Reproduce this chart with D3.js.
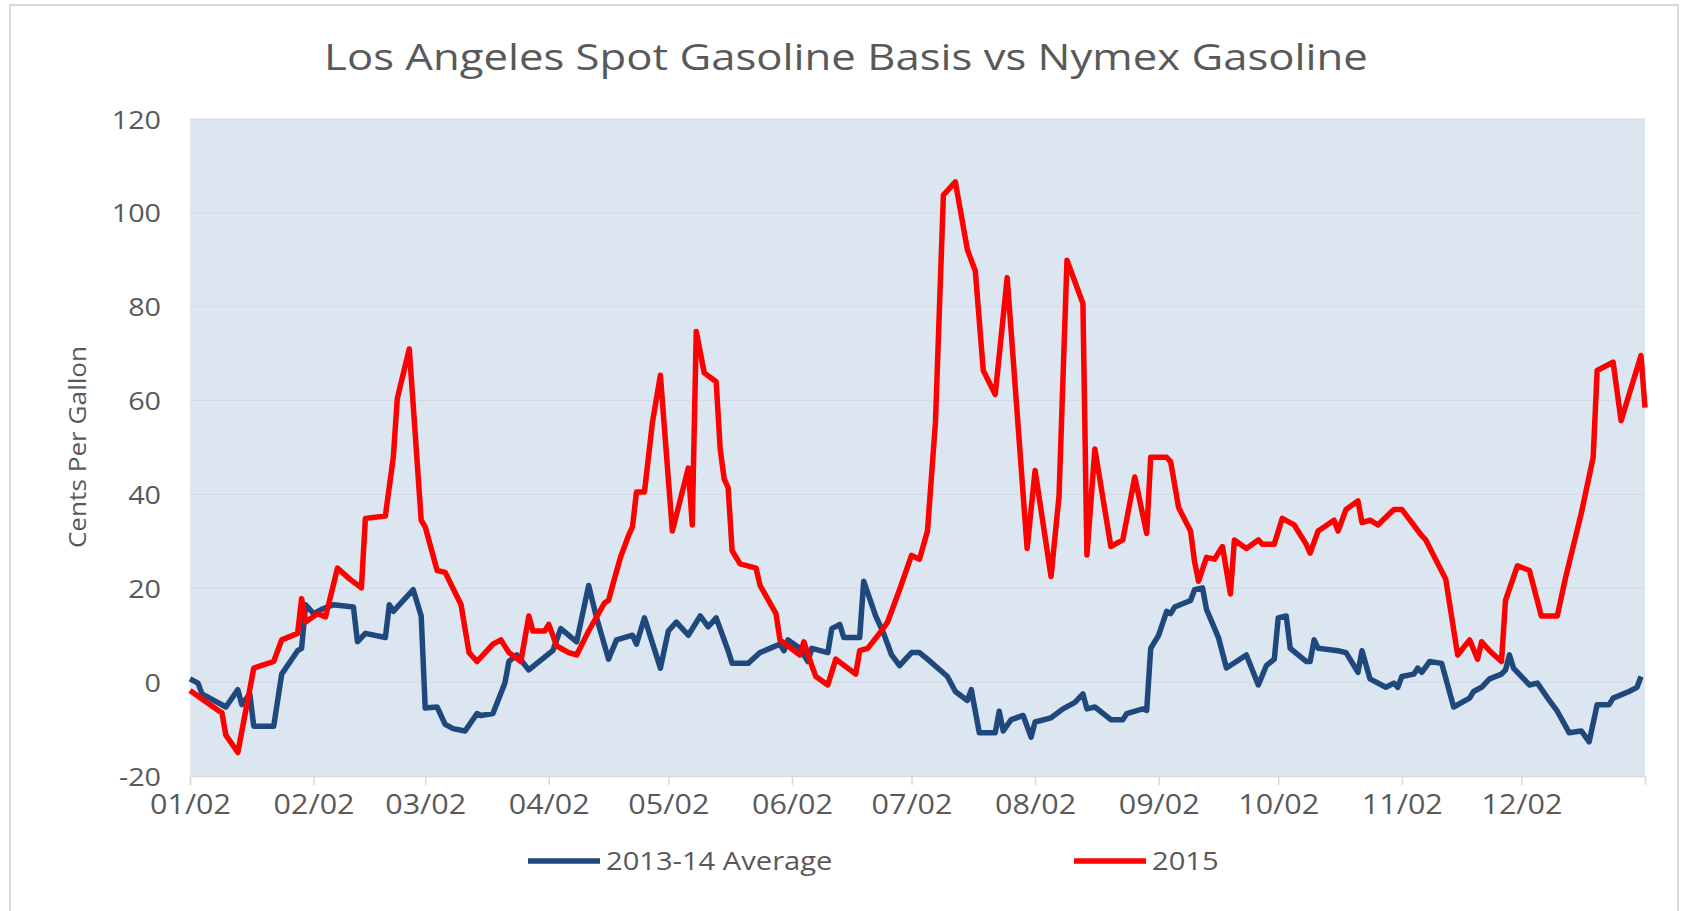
<!DOCTYPE html>
<html>
<head>
<meta charset="utf-8">
<script src="https://cdn.jsdelivr.net/npm/d3@7"></script>
<style>
  body { margin: 0; background: #ffffff; }
  text { font-family: "Open Sans", sans-serif; fill: #595959; }
</style>
</head>
<body>
<div id="chart"></div>
<script>
// Chart data (days counted from 01/02/2015, values in cents per gallon)

var chartTitle = "Los Angeles Spot Gasoline Basis vs Nymex Gasoline";
var yTicks = [-20, 0, 20, 40, 60, 80, 100, 120];
var xTickLabels = ["01/02", "02/02", "03/02", "04/02", "05/02", "06/02",
  "07/02", "08/02", "09/02", "10/02", "11/02", "12/02"];
var seriesNames = ["2013-14 Average", "2015"];

// 2013-14 Average
var avgDays = [0, 2, 3, 9, 12, 13, 15, 16, 21, 23, 27, 28, 29, 31, 33, 36, 41, 42, 44, 49,
  50, 51, 56, 58, 59, 62, 64, 66, 69, 72, 73, 76, 79, 80, 82, 85, 87, 91, 93, 97,
  100, 102, 105, 107, 111, 112, 114, 118, 120, 122, 125, 128, 130, 132, 135, 136, 140, 143, 148, 149,
  150, 153, 155, 156, 160, 161, 163, 164, 168, 169, 172, 174, 176, 178, 181, 183, 185, 190, 192, 195,
  196, 198, 202, 203, 204, 206, 209, 211, 212, 216, 219, 222, 224, 225, 227, 231, 234, 235, 239, 240,
  241, 243, 245, 246, 247, 251, 252, 254, 255, 258, 260, 265, 268, 270, 272, 273, 275, 276, 280, 281,
  282, 283, 288, 290, 293, 294, 296, 300, 302, 303, 304, 307, 308, 309, 311, 314, 317, 321, 322, 324,
  326, 329, 330, 331, 332, 336, 338, 341, 343, 346, 349, 351, 353, 356, 357, 361, 363, 364];
var avgValues = [0.7, -0.2, -2.5, -5.3, -1.6, -4.8, -2.5, -9.4, -9.4, 1.7, 6.7, 7.2, 16.5, 14.6, 15.5, 16.5, 16, 8.6, 10.4, 9.5,
  16.5, 15.1, 19.7, 14.1, -5.5, -5.3, -9, -9.9, -10.4, -6.7, -7.1, -6.7, -0.2, 4.4, 5.8, 2.6, 4, 6.7, 11.4, 8.6,
  20.6, 13.7, 4.9, 9, 10, 8.1, 13.7, 3, 10.9, 12.8, 10, 14.1, 11.8, 13.7, 6.7, 4, 4, 6.3, 8.1, 6.7,
  9, 7.2, 4.4, 7.2, 6.3, 11.4, 12.3, 9.5, 9.5, 21.5, 14.1, 10.4, 5.8, 3.5, 6.3, 6.3, 4.9, 1.2, -2, -3.9,
  -1.6, -10.8, -10.8, -6.2, -10.4, -8, -7.1, -11.7, -8.5, -7.6, -5.7, -4.3, -2.5, -5.7, -5.3, -8, -8, -6.7, -5.7, -6,
  7.2, 10, 15.1, 14.6, 16, 17.4, 19.7, 20.1, 15.5, 9.5, 3, 5.8, -0.6, 3.5, 4.9, 13.7, 14.1, 7.2, 4.4, 4.4,
  9, 7.2, 6.7, 6.3, 2.1, 6.7, 0.7, -1.1, -0.2, -1.1, 1.2, 1.7, 3, 2.1, 4.4, 4, -5.3, -3.4, -2, -1.1,
  0.7, 1.7, 2.6, 5.8, 3, -0.6, -0.2, -3.9, -6.2, -10.8, -10.4, -12.7, -4.8, -4.8, -3.4, -2, -1.1, 1.2];

// 2015
var curDays = [0, 7, 8, 9, 12, 16, 21, 23, 27, 28, 29, 32, 34, 37, 40, 43, 44, 49, 51, 52,
  55, 56, 58, 59, 62, 64, 68, 70, 72, 76, 78, 80, 83, 85, 86, 89, 90, 92, 95, 97,
  100, 104, 105, 106, 108, 110, 111, 112, 114, 116, 118, 121, 125, 126, 127, 129, 132, 133, 134, 135,
  136, 138, 142, 143, 147, 148, 150, 153, 154, 156, 157, 160, 162, 167, 168, 170, 173, 175, 178, 181,
  183, 185, 187, 189, 192, 195, 197, 199, 202, 205, 210, 212, 216, 218, 220, 224, 225, 227, 231, 234,
  237, 240, 241, 245, 246, 248, 251, 252, 253, 255, 257, 259, 261, 262, 265, 268, 269, 272, 274, 277,
  280, 281, 283, 287, 288, 290, 293, 294, 296, 298, 302, 304, 309, 310, 315, 318, 321, 323, 324, 326,
  329, 330, 333, 336, 339, 343, 345, 349, 352, 353, 357, 359, 364, 365];
var curValues = [-1.8, -6, -6.5, -11.3, -15, 3, 4.4, 9, 10.4, 17.8, 12.8, 14.6, 13.9, 24.3, 22, 20.1, 34.9, 35.4, 47.9, 60.4,
  71, 59, 34.5, 33.1, 23.8, 23.4, 16.5, 6.3, 4.4, 8.1, 9, 6.3, 4.4, 14.1, 10.9, 10.9, 12.3, 7.7, 6.3, 5.8,
  10.9, 16.9, 17.4, 20.6, 26.6, 31.2, 33.1, 40.5, 40.5, 55.3, 65.4, 32.2, 45.6, 33.5, 74.7, 65.9, 64, 49.7, 43.3, 41.4,
  28, 25.2, 24.3, 20.6, 14.6, 9, 7.7, 5.8, 8.6, 3.5, 1.2, -0.6, 4.9, 1.7, 6.7, 7.2, 10.4, 12.8, 19.7, 27,
  26.2, 32.2, 55.3, 103.8, 106.6, 92.2, 87.6, 66.4, 61.3, 86.2, 28.5, 45.1, 22.5, 39.6, 89.9, 80.7, 27.1, 49.7, 28.9, 30.3,
  43.7, 31.7, 47.9, 47.9, 47, 37.2, 32.2, 25.7, 21.5, 26.6, 26.2, 28.9, 18.8, 30.3, 28.5, 30.3, 29.4, 29.4, 34.9, 33.5,
  29.4, 27.5, 32.2, 34.5, 32.2, 36.8, 38.6, 34, 34.5, 33.5, 36.8, 36.8, 31.2, 30.3, 22, 5.8, 9, 4.9, 8.6, 6.7,
  4.4, 17.4, 24.8, 23.8, 14.1, 14.1, 22, 35.9, 47.9, 66.4, 68.2, 55.7, 69.6, 58.5];

// Setting width and height
var width = 1688;
var height = 911;

// Plot area edges
var plotLeft = 190;
var plotRight = 1645;
var plotTop = 119;
var plotBottom = 776;

var startDate = new Date(2015, 0, 2);
var endDate = new Date(2016, 0, 2);

var svg = d3
  .select("#chart")
  .append("svg")
  .attr("width", width)
  .attr("height", height);

// The original text is a little wider than Open Sans, so stretch it
function widen(selection, factor) {
  selection.each(function() {
    var len = this.getComputedTextLength();
    d3.select(this)
      .attr("textLength", len * factor)
      .attr("lengthAdjust", "spacingAndGlyphs");
  });
}

// Outer chart border
svg
  .append("rect")
  .attr("x", 10)
  .attr("y", 5)
  .attr("width", 1668)
  .attr("height", 930)
  .attr("fill", "#ffffff")
  .attr("stroke", "#d9d9d9")
  .attr("stroke-width", 2);

// Scales
var xScale = d3
  .scaleTime()
  .domain([startDate, endDate])
  .range([plotLeft, plotRight]);
var yScale = d3
  .scaleLinear()
  .domain([-20, 120])
  .range([plotBottom, plotTop]);

function toDate(day) {
  return d3.timeDay.offset(startDate, day);
}

// Plot background
svg
  .append("rect")
  .attr("x", plotLeft)
  .attr("y", plotTop)
  .attr("width", plotRight - plotLeft)
  .attr("height", plotBottom - plotTop)
  .attr("fill", "#dce6f1");

// Gridlines
svg
  .append("g")
  .selectAll("line")
  .data(yTicks.slice(1))
  .enter()
  .append("line")
  .attr("x1", plotLeft)
  .attr("x2", plotRight)
  .attr("y1", function(d) { return yScale(d); })
  .attr("y2", function(d) { return yScale(d); })
  .attr("stroke", "#d3d9e2")
  .attr("stroke-width", 1);

// Y axis labels (plain hyphen for negatives, like the original)
var yAxis = d3
  .axisLeft(yScale)
  .tickValues(yTicks)
  .tickSize(0)
  .tickPadding(29)
  .tickFormat(function(d) { return String(d); });
var yAxisG = svg
  .append("g")
  .attr("transform", "translate(" + plotLeft + ",0)")
  .call(yAxis);
yAxisG.select(".domain").remove();
yAxisG
  .selectAll("text")
  .attr("font-size", 25)
  .attr("font-family", "Open Sans")
  .attr("fill", "#595959")
  .attr("dy", "0.36em")
  .call(widen, 1.15);

// X axis: month ticks on the 2nd of each month
var monthDates = xTickLabels.map(function(label, i) {
  return new Date(2015, i, 2);
});
var xAxis = d3
  .axisBottom(xScale)
  .tickValues(monthDates)
  .tickSize(9)
  .tickPadding(10)
  .tickFormat(function(d, i) { return xTickLabels[i]; });
var xAxisG = svg
  .append("g")
  .attr("transform", "translate(0," + plotBottom + ")")
  .call(xAxis);
xAxisG.select(".domain").attr("stroke", "#d9d9d9").attr("stroke-width", 1.5);
xAxisG.selectAll(".tick line").attr("stroke", "#d9d9d9").attr("stroke-width", 1.5);
xAxisG
  .selectAll("text")
  .attr("font-size", 27)
  .attr("font-family", "Open Sans")
  .attr("fill", "#595959")
  .call(widen, 1.13);

// Lines
var line = d3
  .line()
  .x(function(d) { return xScale(toDate(d[0])); })
  .y(function(d) { return yScale(d[1]); });

var avgData = d3.zip(avgDays, avgValues);
var curData = d3.zip(curDays, curValues);

svg
  .append("path")
  .datum(avgData)
  .attr("d", line)
  .attr("fill", "none")
  .attr("stroke", "#1f497d")
  .attr("stroke-width", 5.5)
  .attr("stroke-linejoin", "round");

svg
  .append("path")
  .datum(curData)
  .attr("d", line)
  .attr("fill", "none")
  .attr("stroke", "#ff0000")
  .attr("stroke-width", 5.5)
  .attr("stroke-linejoin", "round");

// Title
svg
  .append("text")
  .attr("x", 846)
  .attr("y", 70)
  .attr("text-anchor", "middle")
  .attr("font-size", 37)
  .text(chartTitle)
  .call(widen, 1.18);

// Y axis title
svg
  .append("text")
  .attr("transform", "translate(86,447)rotate(-90)")
  .attr("text-anchor", "middle")
  .attr("font-size", 24)
  .text("Cents Per Gallon")
  .call(widen, 1.09);

// Legend
var legendItems = [
  { name: seriesNames[0], color: "#1f497d", x: 528 },
  { name: seriesNames[1], color: "#ff0000", x: 1074 }
];
var legend = svg
  .selectAll("g.legend")
  .data(legendItems)
  .enter()
  .append("g")
  .attr("class", "legend")
  .attr("transform", function(d) { return "translate(" + d.x + ",861)"; });
legend
  .append("line")
  .attr("x1", 0)
  .attr("x2", 72)
  .attr("stroke", function(d) { return d.color; })
  .attr("stroke-width", 5.5);
legend
  .append("text")
  .attr("x", 78)
  .attr("dy", "0.36em")
  .attr("font-size", 26)
  .text(function(d) { return d.name; })
  .call(widen, 1.12);
</script>
</body>
</html>
